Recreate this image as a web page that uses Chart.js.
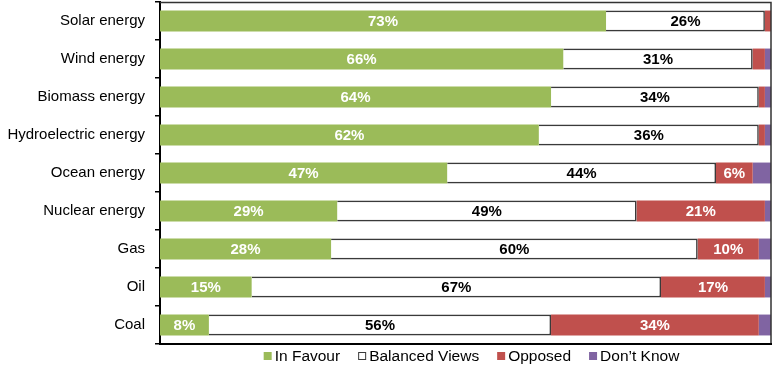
<!DOCTYPE html>
<html>
<head>
<meta charset="utf-8">
<script src="https://cdn.jsdelivr.net/npm/chart.js@4.4.1/dist/chart.umd.min.js"></script>
<style>
  html, body { margin: 0; padding: 0; background: #fff; }
  #wrap { width: 773px; height: 371px; }
</style>
</head>
<body>
<div id="wrap"><canvas id="attitudes" width="773" height="371"></canvas></div>
<script>
// Public attitude towards energy sources (% of respondents)
const sources = [
  "Solar energy", "Wind energy", "Biomass energy", "Hydroelectric energy",
  "Ocean energy", "Nuclear energy", "Gas", "Oil", "Coal"
];
const inFavour = [73, 66, 64, 62, 47, 29, 28, 15, 8];
const balancedViews = [26, 31, 34, 36, 44, 49, 60, 67, 56];
const opposed = [1, 2, 1, 1, 6, 21, 10, 17, 34];
const dontKnow = [0, 1, 1, 1, 3, 1, 2, 1, 2];

const FONT = "'Liberation Sans', Arial, sans-serif";

// values under this are too thin to carry a label
const MIN_LABEL = 5;

const segmentLabels = {
  id: "segmentLabels",
  afterDatasetsDraw(chart) {
    const ctx = chart.ctx;
    ctx.save();
    ctx.font = "bold 15px " + FONT;
    ctx.textAlign = "center";
    ctx.textBaseline = "middle";
    chart.data.datasets.forEach((ds, i) => {
      const meta = chart.getDatasetMeta(i);
      if (meta.hidden) return;
      meta.data.forEach((bar, j) => {
        const v = ds.data[j];
        if (v < MIN_LABEL) return;
        ctx.fillStyle = ds.labelColor;
        ctx.fillText(v + "%", (bar.x + bar.base) / 2, bar.y + 1);
      });
    });
    ctx.restore();
  }
};

// box round the plot, heavier along the bottom
const plotFrame = {
  id: "plotFrame",
  afterDraw(chart) {
    const { ctx, chartArea: a } = chart;
    ctx.save();
    ctx.strokeStyle = "#333";
    ctx.lineWidth = 1.5;
    ctx.beginPath();
    ctx.moveTo(a.left, a.top + 0.5);
    ctx.lineTo(a.right, a.top + 0.5);
    ctx.lineTo(a.right, a.bottom);
    ctx.stroke();
    ctx.strokeStyle = "#000";
    ctx.lineWidth = 2;
    ctx.beginPath();
    ctx.moveTo(a.left - 1, a.bottom);
    ctx.lineTo(a.right + 1, a.bottom);
    ctx.stroke();
    ctx.restore();
  }
};

// compact legend row under the plot: small squares, tight text, wide gaps
const legendRow = {
  id: "legendRow",
  afterDraw(chart) {
    const { ctx, chartArea: a } = chart;
    const box = 8, gapText = 3, gapItem = 18, nudge = 6;
    ctx.save();
    ctx.font = "15.5px " + FONT;
    ctx.textBaseline = "middle";
    const items = chart.data.datasets.map((ds) => ({
      ds,
      w: box + gapText + ctx.measureText(ds.label).width
    }));
    const total = items.reduce((s, it) => s + it.w, 0) + gapItem * (items.length - 1);
    let x = (a.left + a.right) / 2 - total / 2 + nudge;
    const y = a.bottom + 12;
    items.forEach(({ ds, w }) => {
      ctx.fillStyle = ds.backgroundColor;
      ctx.fillRect(x, y - box / 2, box, box);
      if (ds.borderWidth) {
        ctx.strokeStyle = ds.borderColor;
        ctx.lineWidth = 1;
        ctx.strokeRect(x + 0.5, y - box / 2 + 0.5, box - 1, box - 1);
      }
      ctx.fillStyle = "#000";
      ctx.fillText(ds.label, x + box + gapText, y + 1);
      x += w + gapItem;
    });
    ctx.restore();
  }
};

new Chart(document.getElementById("attitudes"), {
  type: "bar",
  data: {
    labels: sources,
    datasets: [
      { label: "In Favour", data: inFavour, backgroundColor: "#9bbb59", labelColor: "#fff", borderWidth: 0 },
      { label: "Balanced Views", data: balancedViews, backgroundColor: "#fff", borderColor: "#3a3a3a", borderWidth: 1.6, labelColor: "#000" },
      { label: "Opposed", data: opposed, backgroundColor: "#c0504d", labelColor: "#fff", borderWidth: 0 },
      { label: "Don\u2019t Know", data: dontKnow, backgroundColor: "#8064a2", labelColor: "#fff", borderWidth: 0 }
    ]
  },
  options: {
    indexAxis: "y",
    responsive: false,
    animation: false,
    layout: { padding: { top: 2, right: 2, left: 0, bottom: 27 } },
    datasets: { bar: { categoryPercentage: 1, barPercentage: 0.55 } },
    scales: {
      x: {
        stacked: true,
        min: 0,
        max: 100,
        display: false
      },
      y: {
        stacked: true,
        afterFit(scale) {
          scale.width = 160;
          scale.paddingTop = 0;
          scale.paddingBottom = 0;
        },
        border: { display: true, color: "#000", width: 2 },
        grid: { drawOnChartArea: false, drawTicks: true, tickLength: 5, color: "#000", lineWidth: 1.5 },
        ticks: { color: "#000", padding: 10, font: { family: FONT, size: 15 } }
      }
    },
    plugins: {
      tooltip: { enabled: false },
      legend: { display: false }
    }
  },
  plugins: [segmentLabels, plotFrame, legendRow]
});
</script>
</body>
</html>
